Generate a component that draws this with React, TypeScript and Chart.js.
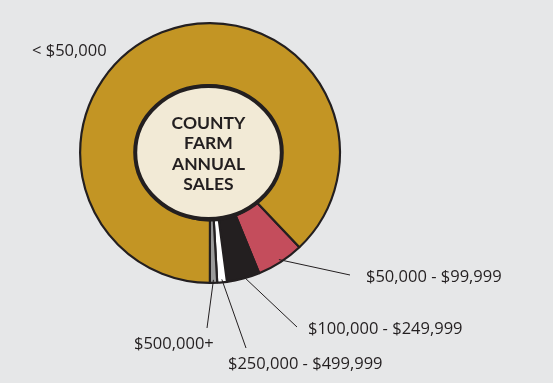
import React, { useEffect, useRef } from "react";
import { Chart, registerables } from "chart.js";

Chart.register(...registerables);

// ---- data ----
const categories = [
  "$50,000 - $99,999",
  "$100,000 - $249,999",
  "$250,000 - $499,999",
  "$500,000+",
  "< $50,000",
];
const shares = [5.9, 4.1, 1.2, 0.9, 87.9];
const sliceColors = ["#c44d5c", "#231f20", "#ffffff", "#9b9b9b", "#c39524"];
const centerTitle = ["COUNTY", "FARM", "ANNUAL", "SALES"];

// ---- label layout (text left x, text middle y, leader end or null) ----
const labelX = [366, 308, 228, 134, 32];
const labelY = [277, 329, 364, 344, 51];
const leaderEndX = [350, 297, 246, 207, null];
const leaderEndY = [275, 327, 348, 328, null];

const INK = "#231f20";
const BG = "#e6e7e8";
const CREAM = "#f2ead6";

const overlayPlugin = {
  id: "overlay",
  afterDatasetsDraw(chart: any) {
    const ctx = chart.ctx;
    const meta = chart.getDatasetMeta(0);
    const arc0 = meta.data[0];
    const { x: cx, y: cy, innerRadius } = arc0.getProps(["x", "y", "innerRadius"], true);

    // center cream ellipse
    ctx.save();
    ctx.beginPath();
    ctx.ellipse(cx - 1.5, cy - 0.5, innerRadius * 1.085, innerRadius * 0.985, 0, 0, Math.PI * 2);
    ctx.fillStyle = CREAM;
    ctx.fill();
    ctx.lineWidth = 4;
    ctx.strokeStyle = INK;
    ctx.stroke();

    ctx.fillStyle = INK;
    ctx.font = "bold 17.5px Lato";
    ctx.textAlign = "center";
    ctx.textBaseline = "middle";
    const lh = 20.5;
    centerTitle.forEach((t, i) => {
      ctx.fillText(t, cx - 1.5, cy + 1 + (i - (centerTitle.length - 1) / 2) * lh);
    });

    // leader lines and labels
    ctx.lineWidth = 1;
    ctx.strokeStyle = INK;
    ctx.font = "16.5px 'Open Sans'";
    ctx.textAlign = "left";
    meta.data.forEach((arc: any, i: number) => {
      const p = arc.getProps(["x", "y", "startAngle", "endAngle", "outerRadius"], true);
      const mid = (p.startAngle + p.endAngle) / 2;
      const ex = leaderEndX[i];
      const ey = leaderEndY[i];
      if (ex !== null && ey !== null) {
        const sx = p.x + Math.cos(mid) * (p.outerRadius - 3);
        const sy = p.y + Math.sin(mid) * (p.outerRadius - 3);
        ctx.beginPath();
        ctx.moveTo(sx, sy);
        ctx.lineTo(ex, ey);
        ctx.stroke();
      }
      ctx.fillText(categories[i], labelX[i], labelY[i]);
    });
    ctx.restore();
  },
};

export default function App() {
  const ref = useRef<HTMLCanvasElement>(null);
  useEffect(() => {
    document.body.style.margin = "0";
    document.body.style.background = BG;
    const chart = new Chart(ref.current!, {
      type: "doughnut",
      data: {
        labels: categories,
        datasets: [
          {
            data: shares,
            backgroundColor: sliceColors,
            borderColor: INK,
            borderWidth: 2.2,
          },
        ],
      },
      options: {
        responsive: false,
        animation: false,
        rotation: 136.5,
        cutout: "52%",
        layout: { padding: { left: 79, top: 22, right: 212, bottom: 99 } },
        plugins: { legend: { display: false }, tooltip: { enabled: false } },
      },
      plugins: [overlayPlugin],
    });
    return () => chart.destroy();
  }, []);
  return (
    <div style={{ width: 553, height: 383, background: BG }}>
      <canvas ref={ref} width={553} height={383} style={{ display: "block" }} />
    </div>
  );
}
